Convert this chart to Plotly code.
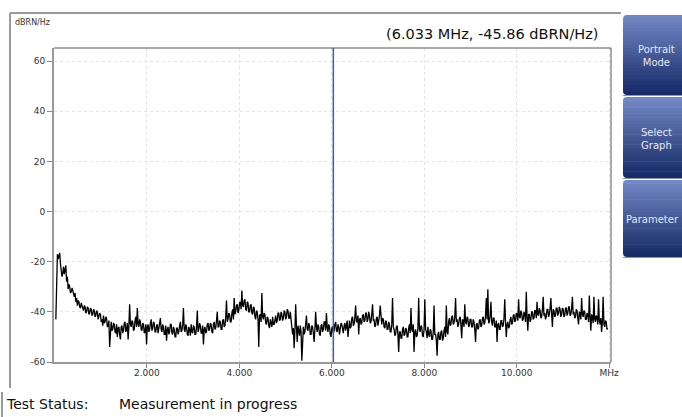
import numpy as np
import plotly.graph_objects as go

# ---- data ----
freq_start_mhz = 0.03
freq_stop_mhz = 11.97
noise_dbrn = [
    -43, -22, -17, -19, -18, -16.5, -21, -24, -26, -24.5, -22, -25, -23, -21.5, -28, -26, -31, -29, -30, -32.5,
    -32, -30.5, -31.5, -33, -34, -32.5, -36, -34.5, -37.5, -35.5, -36, -38, -38.5, -36.5, -37.5, -39.5, -39.5, -37.5, -38, -40.5,
    -40, -38, -38.5, -41, -40.5, -38.5, -39, -41.5, -41, -39, -39.5, -42, -41.5, -39.5, -40, -43, -42, -40.5, -41, -44,
    -43, -45.5, -41.5, -44.5, -44, -42, -42.5, -46, -45.5, -43.5, -54, -45, -44, -47.5, -47, -44.5, -45, -48, -48.5, -45,
    -50, -46.5, -46, -49, -51, -46, -45.5, -48.5, -47.5, -44.5, -44, -48, -47, -44.5, -51, -46, -37, -45, -46, -43.5,
    -44, -47.5, -47, -43.5, -42, -46, -38.5, -45, -46, -43, -44, -47, -47.5, -44.5, -45, -48.5, -48, -45, -53, -46,
    -45, -48, -47, -44.5, -43, -47.5, -46.5, -44, -44.5, -48, -48, -45.5, -45, -48.5, -46.5, -44, -42.5, -47, -48, -45,
    -46, -49, -49, -45.5, -51.5, -47, -46, -49, -48, -45, -45, -48.5, -49, -46, -47, -50, -50, -46.5, -46.5, -49,
    -48, -45.5, -44, -48, -47.5, -45, -38.5, -47, -48, -45, -46, -49, -49.5, -46, -47, -49.5, -45, -48, -48.5, -45.5,
    -46, -49, -49, -46, -39.5, -48, -47, -44.5, -45.5, -48.5, -48.5, -45.5, -53, -47, -46, -48.5, -48, -45, -44.5, -47.5,
    -47, -44.5, -45, -48, -48.5, -45, -44, -47, -46.5, -43.5, -40, -46, -46, -43.5, -44, -47, -47, -43.5, -43, -46,
    -45.5, -42, -35.5, -44, -43, -40.5, -41, -44, -44, -40.5, -39, -43, -34.5, -41, -40, -37.5, -37, -40.5, -39.5, -36.5,
    -36, -39, -31.5, -37.5, -38, -35.5, -35, -39, -39.5, -36, -36.5, -40, -40, -37.5, -37, -40.5, -41, -38, -38.5, -42,
    -43, -39.5, -40, -43, -54, -41.5, -41, -44, -32.5, -42, -43, -40.5, -41, -44.5, -45, -42, -42.5, -45.5, -46.5, -43,
    -44, -46, -42, -45, -45, -42, -41.5, -44.5, -43.5, -40.5, -40.5, -43.5, -43, -40, -41, -43.5, -42.5, -39.5, -40, -43,
    -42, -39, -39.5, -42.5, -42.5, -40, -44, -46, -49, -46.5, -54.5, -47.5, -37, -46, -52, -45.5, -47, -49.5, -45.5, -48,
    -59.5, -47, -46, -49, -48, -45, -41.5, -47, -47.5, -44.5, -45.5, -49, -49, -45.5, -46, -48.5, -52, -47, -40, -46,
    -48, -45, -46, -49, -49.5, -45.5, -45, -48, -47, -44, -44, -47.5, -40.5, -46, -48, -45, -46, -49, -50, -46.5,
    -45.9, -48.5, -47.5, -45, -44, -47.5, -48, -45, -46, -49, -47, -44.5, -45, -48, -48.5, -45.5, -44.5, -47.5, -46, -43.5,
    -50, -45, -43.5, -46.5, -46, -42.5, -42, -45.5, -45, -42, -37.5, -44, -44, -41.5, -49, -43, -42.5, -45, -44.5, -41.5,
    -41, -44, -43.5, -40.5, -40.5, -44, -43, -40, -41.5, -44.5, -44, -41, -37, -43.5, -43, -46, -45.5, -42.5, -42, -45.5,
    -44, -41.5, -37.5, -44.5, -45, -42.5, -43, -46, -46.5, -43.5, -44, -47, -47, -44, -45, -48, -48, -45, -34.5, -46,
    -47, -49.5, -49, -46, -45.5, -49, -56, -48, -48, -50.5, -50.5, -47, -46, -49.5, -49, -46.5, -47, -50, -50, -46.5,
    -45, -48.5, -38.5, -47, -48, -45, -56, -48, -47, -50, -49.5, -46.5, -34.5, -47, -48, -45.5, -46, -49.5, -50, -47,
    -35, -47, -48, -50.5, -46, -49, -50, -47, -47.5, -51, -51, -48, -37.5, -49, -49, -51.5, -57.5, -49, -48, -51,
    -51, -48, -47.5, -51.5, -50.5, -47.5, -46, -50, -37.5, -48, -49, -44, -42.5, -45.5, -45, -42, -41.5, -45, -44.5, -42,
    -34.5, -44, -43, -46, -45, -42.5, -42, -45.5, -50.5, -43, -43.5, -46, -37, -44, -45, -42, -42.5, -46, -45.5, -43,
    -43, -46, -46, -43, -44, -47, -52, -45, -44.5, -47, -46.5, -43.5, -43, -46, -45.5, -42.5, -42, -45, -44.5, -41.5,
    -34.5, -43, -31, -44.5, -44, -41.5, -36, -44, -45.5, -42.5, -42.5, -46, -46, -43.5, -52, -45, -44.5, -47, -47, -43.5,
    -43.5, -46, -45.5, -42.5, -35, -44, -50, -45, -44, -46.5, -46, -43, -42, -45, -44.5, -41.5, -41, -44, -43.5, -40.5,
    -41, -43.5, -35, -42, -42.5, -39.5, -40.5, -43.5, -43, -40, -41, -44, -32, -42, -47.5, -41, -41, -44, -43, -40,
    -40, -43, -42.5, -39.5, -39.5, -42.5, -36, -41, -41.5, -38.5, -39.5, -42.5, -42, -39, -34, -41.5, -40.5, -43, -42, -39,
    -39, -42, -41, -38.5, -34.5, -41, -46, -39, -39.5, -42, -41.5, -38.5, -38.5, -41.5, -40.5, -38, -39, -42, -41, -38.5,
    -39, -42, -41.5, -38.5, -38.5, -41.5, -40.5, -38, -38, -41.5, -41, -38.5, -34, -41, -40, -42.5, -42, -39, -39.5, -42.5,
    -45, -40, -40.5, -43, -34.5, -41, -42, -39.5, -40, -43, -43, -40.5, -41, -44, -33.5, -42, -47.5, -41, -42, -44.5,
    -34, -43, -44, -41.5, -42, -45, -35, -43.5, -45, -42.5, -48, -44, -34, -45, -46, -43.5, -44, -47, -46.5,
]
freq_mhz = np.linspace(freq_start_mhz, freq_stop_mhz, len(noise_dbrn))

cursor_mhz = 6.033
cursor_dbrn = -45.86

x_tickvals = [2, 4, 6, 8, 10, 12]
x_ticktext = ["2.000", "4.000", "6.000", "8.000", "10.000", "MHz"]
y_tickvals = [-60, -40, -20, 0, 20, 40, 60]
y_ticktext = ["-60", "-40", "-20", "0", "20", "40", "60"]

button_labels = ["Portrait<br>Mode", "Select<br>Graph", "Parameter"]
status_label = "Test Status:"
status_text = "Measurement in progress"
unit_label = "dBRN/Hz"

# ---- layout geometry (pixels) ----
W, H = 682, 417
PL, PR, PT, PB = 54, 611, 48, 362


def fx(px):
    return (px - PL) / (PR - PL)


def fy(py):
    return (PB - py) / (PB - PT)


fig = go.Figure()
fig.add_trace(go.Scatter(
    x=freq_mhz, y=noise_dbrn, mode="lines",
    line=dict(color="#000000", width=1.3), hoverinfo="skip", showlegend=False,
))

shapes = []
shapes.append(dict(type="line", xref="x", yref="paper", x0=cursor_mhz, x1=cursor_mhz,
                   y0=0, y1=1, line=dict(color="#4a56a6", width=1.5), layer="above"))
shapes.append(dict(type="line", xref="paper", yref="paper", x0=0, x1=1, y0=1, y1=1,
                   line=dict(color="#555555", width=1)))
shapes.append(dict(type="line", xref="paper", yref="paper", x0=1, x1=1, y0=0, y1=1,
                   line=dict(color="#555555", width=1)))
shapes.append(dict(type="line", xref="paper", yref="paper", x0=fx(10), x1=fx(10),
                   y0=fy(13), y1=fy(388), line=dict(color="#9a9a9a", width=2)))
shapes.append(dict(type="line", xref="paper", yref="paper", x0=fx(10), x1=fx(621),
                   y0=fy(13), y1=fy(13), line=dict(color="#9a9a9a", width=2)))
shapes.append(dict(type="line", xref="paper", yref="paper", x0=fx(2), x1=fx(2),
                   y0=fy(392), y1=fy(417), line=dict(color="#9a9a9a", width=2)))

top_c = np.array([114, 136, 196])
bot_c = np.array([24, 42, 104])
buttons = [(15, 95), (97, 178), (180, 257)]
bx0, bx1 = 623, 684
N = 24
annotations = []
for (by0, by1), lab in zip(buttons, button_labels):
    hh = (by1 - by0) / N
    for k in range(N):
        t = k / (N - 1)
        c = (top_c * (1 - t) + bot_c * t).astype(int)
        shapes.append(dict(type="rect", xref="paper", yref="paper",
                           x0=fx(bx0), x1=fx(bx1), y0=fy(by0 + k * hh), y1=fy(by0 + (k + 1) * hh + 0.6),
                           line=dict(width=0), fillcolor=f"rgb({c[0]},{c[1]},{c[2]})", layer="above"))
    r = 4
    for (cx, cy, dx, dy) in [(bx0, by0, 1, 1), (bx0, by1, 1, -1)]:
        path = (f"M {fx(cx)} {fy(cy)} L {fx(cx + dx * r)} {fy(cy)} "
                f"Q {fx(cx)} {fy(cy)} {fx(cx)} {fy(cy + dy * r)} Z")
        shapes.append(dict(type="path", xref="paper", yref="paper", path=path,
                           fillcolor="white", line=dict(width=0), layer="above"))
    cx_txt = 652 if "<br>" not in lab else 656
    annotations.append(dict(xref="paper", yref="paper", x=fx(cx_txt), y=fy((by0 + by1) / 2 + 1),
                            xanchor="center", yanchor="middle",
                            text=lab, showarrow=False, align="center",
                            font=dict(family="DejaVu Sans", size=10, color="#e3e8f4")))

annotations.append(dict(xref="paper", yref="paper", x=fx(493), y=fy(34),
                        xanchor="center", yanchor="middle",
                        text=f"({cursor_mhz:.3f} MHz, {cursor_dbrn:.2f} dBRN/Hz)",
                        showarrow=False, font=dict(family="DejaVu Sans", size=14.5, color="#111111")))
annotations.append(dict(xref="paper", yref="paper", x=fx(13), y=fy(22),
                        xanchor="left", yanchor="middle",
                        text=unit_label, showarrow=False,
                        font=dict(family="DejaVu Sans", size=8, color="#333333")))
annotations.append(dict(xref="paper", yref="paper", x=fx(4), y=fy(404),
                        xanchor="left", yanchor="middle",
                        text=status_label, showarrow=False,
                        font=dict(family="DejaVu Sans", size=14, color="#111111")))
annotations.append(dict(xref="paper", yref="paper", x=fx(117), y=fy(404),
                        xanchor="left", yanchor="middle",
                        text=status_text, showarrow=False,
                        font=dict(family="DejaVu Sans", size=14, color="#111111")))

fig.update_layout(
    width=W, height=H,
    margin=dict(l=PL, r=W - PR, t=PT, b=H - PB, pad=0),
    paper_bgcolor="white", plot_bgcolor="white",
    shapes=shapes, annotations=annotations,
    xaxis=dict(range=[-0.01, 12.04], tickvals=x_tickvals, ticktext=x_ticktext,
               showgrid=True, gridcolor="#dfe4ec", griddash="dot", gridwidth=1,
               zeroline=False, showline=True, linecolor="#999999", linewidth=2,
               ticks="outside", ticklen=4, tickcolor="#888888", ticklabelstandoff=-3,
               tickfont=dict(family="DejaVu Sans", size=9, color="#333333")),
    yaxis=dict(range=[-60, 65.2], tickvals=y_tickvals, ticktext=y_ticktext,
               showgrid=True, gridcolor="#dfe4ec", griddash="dot", gridwidth=1,
               zeroline=False, showline=True, linecolor="#999999", linewidth=2,
               ticks="outside", ticklen=5, tickcolor="#888888",
               tickfont=dict(family="DejaVu Sans", size=9, color="#333333")),
)

fig.write_html("out.html", config={"displayModeBar": False},
               post_script="document.body.style.margin='0';document.body.style.overflow='hidden';")
